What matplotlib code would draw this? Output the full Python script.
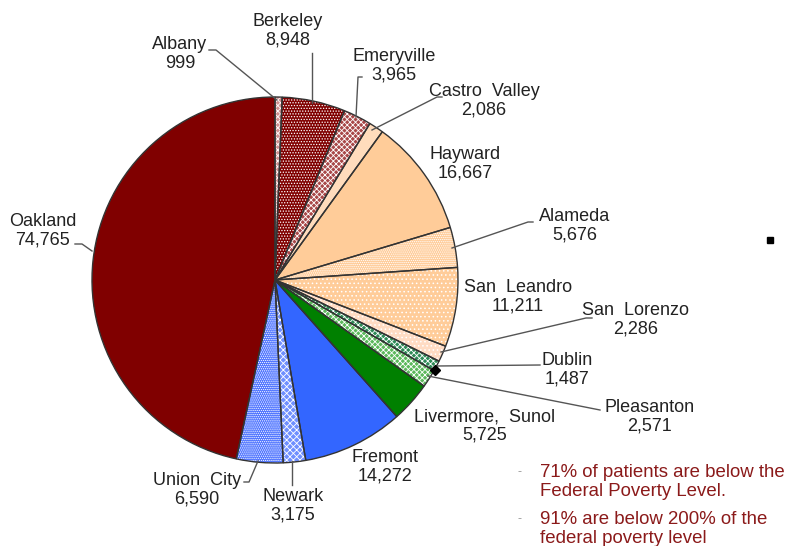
import matplotlib
matplotlib.use("Agg")
import matplotlib.pyplot as plt

plt.rcParams['font.family'] = ['Liberation Sans', 'DejaVu Sans']
plt.rcParams['hatch.linewidth'] = 0.6

cities = ["Albany", "Berkeley", "Emeryville", "Castro  Valley", "Hayward", "Alameda",
          "San  Leandro", "San  Lorenzo", "Dublin", "Pleasanton", "Livermore,  Sunol",
          "Fremont", "Newark", "Union  City", "Oakland"]
patients = [999, 8948, 3965, 2086, 16667, 5676, 11211, 2286, 1487, 2571, 5725,
            14272, 3175, 6590, 74765]
value_labels = ["999", "8,948", "3,965", "2,086", "16,667", "5,676", "11,211", "2,286",
                "1,487", "2,571", "5,725", "14,272", "3,175", "6,590", "74,765"]
notes = ["71% of patients are below the\nFederal Poverty Level.",
         "91% are below 200% of the\nfederal poverty level"]

face = ["#d09090", "#800000", "#a84848", "#ffdcbc", "#ffcc99", "#ffcc99",
        "#ffcc99", "#ffdcc4", "#2e8b57", "#5cb85c", "#008000",
        "#3366ff", "#6f8fff", "#4d73ff", "#800000"]
hatch = ["xxxxxx", "......", "xxxxxx", None, None, "........", "....", "....",
         "xxxxxx", "xxxxxx", None, None, "xxxxx", "........", None]

W, H = 787, 546
fig = plt.figure(figsize=(W / 100, H / 100), dpi=100)
ax = fig.add_axes([0, 0, 1, 1])

cx, cy, r = 275, H - 280, 183

w1, _ = ax.pie(patients, colors=face, startangle=90, counterclock=False,
               center=(cx, cy), radius=r, frame=True,
               wedgeprops=dict(linewidth=0, edgecolor="white"))
for w, h in zip(w1, hatch):
    if h:
        w.set_hatch(h)
ax.pie(patients, colors=["none"] * len(patients), startangle=90, counterclock=False,
       center=(cx, cy), radius=r, frame=True,
       wedgeprops=dict(linewidth=1.0, edgecolor="#333333"))
ax.set_xlim(0, W)
ax.set_ylim(0, H)
ax.axis('off')

label_pos = {
    "Albany": (180, 54), "Berkeley": (288, 31), "Emeryville": (394, 66),
    "Castro  Valley": (484, 101), "Hayward": (465, 164), "Alameda": (575, 226),
    "San  Leandro": (518, 297), "San  Lorenzo": (636, 320), "Dublin": (567, 370),
    "Pleasanton": (650, 417), "Livermore,  Sunol": (485, 426), "Fremont": (385, 467),
    "Newark": (293, 506), "Union  City": (197, 490), "Oakland": (43, 231),
}
leaders = {
    "Albany": [(209, 50), (216, 50), (277, 100)],
    "Berkeley": [(312, 53), (312, 103)],
    "Emeryville": [(362, 77), (358, 77), (356, 117)],
    "Castro  Valley": [(442, 97), (437, 97), (372, 130)],
    "Alameda": [(533, 222), (528, 222), (452, 248)],
    "San  Lorenzo": [(592, 318), (586, 318), (441, 352)],
    "Dublin": [(540, 365), (437, 366)],
    "Pleasanton": [(600, 410), (428, 376)],
    "Newark": [(292, 485), (292, 461)],
    "Union  City": [(244, 482), (249, 482), (258, 461)],
    "Oakland": [(75, 244), (82, 244), (92, 251)],
}
for name, val in zip(cities, value_labels):
    x, y = label_pos[name]
    ax.text(x, H - y, f"{name}\n{val}", ha="center", va="center", fontsize=13,
            color="#222222", linespacing=1.15)
    pts = leaders.get(name, [])
    if pts:
        ax.plot([p[0] for p in pts], [H - p[1] for p in pts], color="#555555", lw=1)

ax.plot([435], [H - 370], marker="D", color="black", ms=5)
ax.plot([770], [H - 240], marker="s", color="black", ms=5)

ys = [482, 529]
for t, y in zip(notes, ys):
    ax.text(517, H - y + 10, "-", fontsize=9, color="#999999", va="center")
    ax.text(540, H - y, t, fontsize=13.4, color="#8b1a1a", va="center", linespacing=1.1)

fig.savefig("out.png", dpi=100)
